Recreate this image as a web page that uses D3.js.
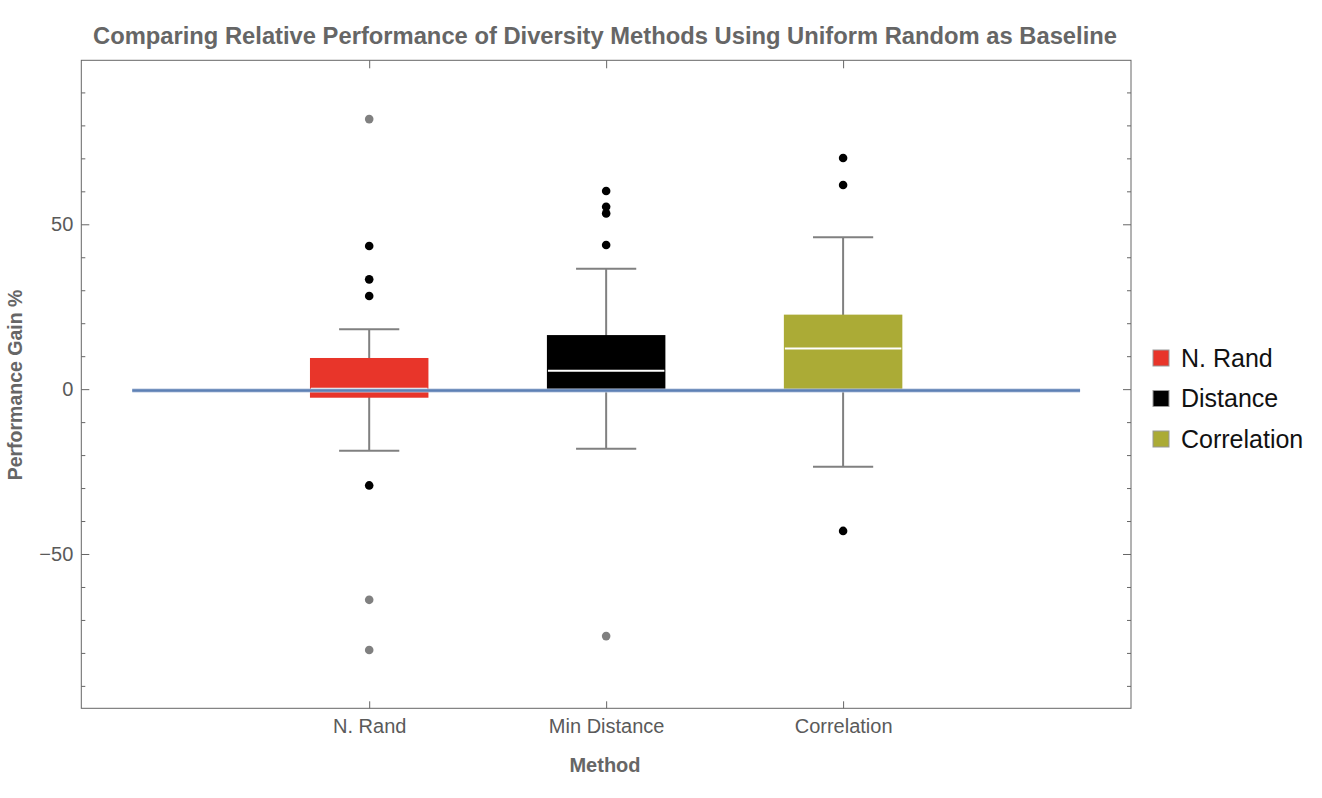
<!DOCTYPE html>
<html lang="en">
	<head>
		<meta charset="UTF-8"/>
		<title>Diversity Methods Box Plot</title>
		<script type="text/javascript" src="https://cdn.jsdelivr.net/npm/d3@7"></script>
		<style>
			body { margin: 0; background: #fff; }
			svg text { font-family: "Liberation Sans", Arial, Helvetica, sans-serif; }
		</style>
	</head>
	<body>
		<script type="text/javascript">
			var w = 1322;
			var h = 798;

			// Data
			var categories = ["N. Rand", "Min Distance", "Correlation"];
			var legendLabels = ["N. Rand", "Distance", "Correlation"];
			var q1 = [-2.6, -0.05, -0.05];
			var medians = [0.14, 5.6, 12.3];
			var q3 = [9.45, 16.4, 22.6];
			var whiskerLow = [-18.7, -18.1, -23.5];
			var whiskerHigh = [18.2, 36.5, 46.1];
			var outliers = [[43.4, 33.3, 28.25, -29.2], [60.1, 55.3, 53.3, 43.7], [70.1, 61.9, -43.0]];
			var farOutliers = [[81.9, -63.9, -79.1], [-74.9], []];
			var baseline = -0.4;
			var majorTicks = [-50, 0, 50];
			var minorTicks = [-90, -80, -70, -60, -40, -30, -20, -10, 10, 20, 30, 40, 60, 70, 80, 90];

			var colors = ["#e8352a", "#000000", "#abab36"];

			var plotLeft = 81.3, plotRight = 1131, plotTop = 60.3, plotBottom = 708.3;

			var xScale = d3.scaleLinear()
				.domain([-0.215, 4.215])
				.range([plotLeft, plotRight]);

			var yScale = d3.scaleLinear()
				.domain([-96.8, 99.74])
				.range([plotBottom, plotTop]);

			var svg = d3.select("body")
				.append("svg")
				.attr("width", w)
				.attr("height", h);

			// Title
			svg.append("text")
				.attr("x", 605)
				.attr("y", 44)
				.attr("text-anchor", "middle")
				.attr("font-size", "23px")
				.attr("font-weight", "bold")
				.attr("fill", "#666")
				.attr("textLength", 1024)
				.attr("lengthAdjust", "spacingAndGlyphs")
				.text("Comparing Relative Performance of Diversity Methods Using Uniform Random as Baseline");

			// Axes (ticks point inward)
			function styleAxis(g) {
				g.select(".domain").remove();
				g.selectAll(".tick line").attr("stroke", "#666");
				g.selectAll(".tick text")
					.attr("fill", "#5a5a5a")
					.attr("font-size", "20px")
					.attr("font-family", "'Liberation Sans', Arial, sans-serif");
			}

			svg.append("g")
				.attr("transform", "translate(" + plotLeft + ",0)")
				.call(d3.axisLeft(yScale).tickValues(majorTicks).tickSize(-8).tickPadding(8)
					.tickFormat(function(d) { return d < 0 ? "\u2212" + Math.abs(d) : d; }))
				.call(styleAxis);
			svg.append("g")
				.attr("transform", "translate(" + plotLeft + ",0)")
				.call(d3.axisLeft(yScale).tickValues(minorTicks).tickSize(-4).tickFormat(""))
				.call(styleAxis);
			svg.append("g")
				.attr("transform", "translate(" + plotRight + ",0)")
				.call(d3.axisRight(yScale).tickValues(majorTicks).tickSize(-8).tickFormat(""))
				.call(styleAxis);
			svg.append("g")
				.attr("transform", "translate(" + plotRight + ",0)")
				.call(d3.axisRight(yScale).tickValues(minorTicks).tickSize(-4).tickFormat(""))
				.call(styleAxis);
			svg.append("g")
				.attr("transform", "translate(0," + plotBottom + ")")
				.call(d3.axisBottom(xScale).tickValues([1, 2, 3]).tickSize(-7).tickPadding(11)
					.tickFormat(function(d) { return categories[d - 1]; }))
				.call(styleAxis);
			svg.append("g")
				.attr("transform", "translate(0," + plotTop + ")")
				.call(d3.axisTop(xScale).tickValues([1, 2, 3]).tickSize(-8).tickFormat(""))
				.call(styleAxis);

			// Frame
			svg.append("rect")
				.attr("x", plotLeft)
				.attr("y", plotTop)
				.attr("width", plotRight - plotLeft)
				.attr("height", plotBottom - plotTop)
				.attr("fill", "none")
				.attr("stroke", "#666")
				.attr("stroke-width", 1);

			// Axis labels
			svg.append("text")
				.attr("x", 605)
				.attr("y", 772)
				.attr("text-anchor", "middle")
				.attr("font-size", "20px")
				.attr("font-weight", "bold")
				.attr("fill", "#666")
				.text("Method");

			svg.append("text")
				.attr("transform", "translate(21.5,385) rotate(-90)")
				.attr("text-anchor", "middle")
				.attr("font-size", "19.5px")
				.attr("font-weight", "bold")
				.attr("fill", "#666")
				.text("Performance Gain %");

			var idx = d3.range(categories.length);
			var boxHalf = xScale(1.25) - xScale(1);
			var capHalf = xScale(1.127) - xScale(1);

			// Whiskers
			var whiskers = svg.append("g")
				.attr("stroke", "#808080")
				.attr("stroke-width", 2);
			idx.forEach(function(i) {
				var cx = xScale(i + 1);
				whiskers.append("line")
					.attr("x1", cx).attr("x2", cx)
					.attr("y1", yScale(whiskerHigh[i])).attr("y2", yScale(whiskerLow[i]));
				whiskers.append("line")
					.attr("x1", cx - capHalf).attr("x2", cx + capHalf)
					.attr("y1", yScale(whiskerHigh[i])).attr("y2", yScale(whiskerHigh[i]));
				whiskers.append("line")
					.attr("x1", cx - capHalf).attr("x2", cx + capHalf)
					.attr("y1", yScale(whiskerLow[i])).attr("y2", yScale(whiskerLow[i]));
			});

			// Boxes
			svg.selectAll("rect.box")
				.data(idx)
				.enter()
				.append("rect")
				.attr("class", "box")
				.attr("x", function(i) { return xScale(i + 1) - boxHalf; })
				.attr("y", function(i) { return yScale(q3[i]); })
				.attr("width", boxHalf * 2)
				.attr("height", function(i) { return yScale(q1[i]) - yScale(q3[i]); })
				.attr("fill", function(i) { return colors[i]; });

			// Medians
			svg.selectAll("line.median")
				.data(idx)
				.enter()
				.append("line")
				.attr("class", "median")
				.attr("x1", function(i) { return xScale(i + 1) - boxHalf + 1; })
				.attr("x2", function(i) { return xScale(i + 1) + boxHalf - 1; })
				.attr("y1", function(i) { return yScale(medians[i]); })
				.attr("y2", function(i) { return yScale(medians[i]); })
				.attr("stroke", "#fff")
				.attr("stroke-width", 2);

			// Outliers
			idx.forEach(function(i) {
				svg.selectAll(null)
					.data(outliers[i])
					.enter()
					.append("circle")
					.attr("cx", xScale(i + 1))
					.attr("cy", function(d) { return yScale(d); })
					.attr("r", 4.3)
					.attr("fill", "#000");
				svg.selectAll(null)
					.data(farOutliers[i])
					.enter()
					.append("circle")
					.attr("cx", xScale(i + 1))
					.attr("cy", function(d) { return yScale(d); })
					.attr("r", 4.3)
					.attr("fill", "#808080");
			});

			// Baseline
			svg.append("line")
				.attr("x1", xScale(0)).attr("x2", xScale(4))
				.attr("y1", yScale(baseline)).attr("y2", yScale(baseline))
				.attr("stroke", "#b9c8e0")
				.attr("stroke-width", 4);
			svg.append("line")
				.attr("x1", xScale(0)).attr("x2", xScale(4))
				.attr("y1", yScale(baseline)).attr("y2", yScale(baseline))
				.attr("stroke", "#5e81b5")
				.attr("stroke-width", 2.6);

			// Legend
			var legend = svg.selectAll("g.legend")
				.data(idx)
				.enter()
				.append("g")
				.attr("class", "legend")
				.attr("transform", function(i) { return "translate(1153," + (358 + i * 40.5) + ")"; });
			legend.append("rect")
				.attr("x", 0)
				.attr("y", -8)
				.attr("width", 16)
				.attr("height", 16)
				.attr("fill", function(i) { return colors[i]; })
				.attr("stroke", "#999")
				.attr("stroke-width", 1);
			legend.append("text")
				.attr("x", 28)
				.attr("y", 0)
				.attr("dy", "0.35em")
				.attr("font-size", "25px")
				.attr("fill", "#111")
				.text(function(i) { return legendLabels[i]; });
		</script>
	</body>
</html>
